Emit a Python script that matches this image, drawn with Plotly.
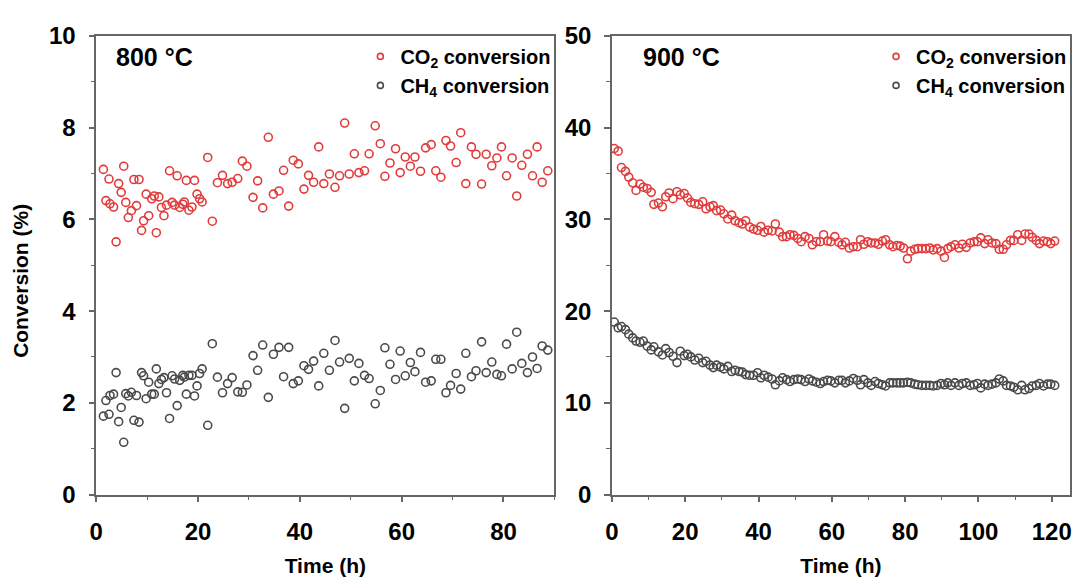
import plotly.graph_objects as go

# ---------------- data ----------------
time_800 = [1.4, 1.9, 2.5, 2.7, 3.4, 3.9, 4.4, 4.9, 5.4, 5.8,
            6.3, 6.9, 7.4, 7.9, 8.4, 8.9, 9.3, 9.8, 10.3, 10.9,
            11.4, 11.8, 12.3, 12.8, 13.3, 13.8, 14.4, 14.9, 15.4, 15.9,
            16.4, 17.0, 17.3, 17.7, 18.2, 18.8, 19.3, 19.8, 20.3, 20.8,
            21.9, 22.8, 23.8, 24.8, 25.8, 26.7, 27.8, 28.7, 29.6, 30.8,
            31.7, 32.7, 33.8, 34.8, 35.9, 36.8, 37.8, 38.7, 39.7, 40.8,
            41.7, 42.7, 43.7, 44.7, 45.8, 46.9, 47.8, 48.8, 49.7, 50.7,
            51.6, 52.7, 53.6, 54.8, 55.8, 56.7, 57.7, 58.8, 59.7, 60.7,
            61.7, 62.6, 63.7, 64.7, 65.8, 66.7, 67.7, 68.7, 69.6, 70.7,
            71.6, 72.6, 73.7, 74.6, 75.7, 76.6, 77.7, 78.7, 79.6, 80.6,
            81.7, 82.6, 83.6, 84.7, 85.7, 86.6, 87.6, 88.7]

co2_800 = [7.09, 6.41, 6.88, 6.34, 6.27, 5.51, 6.78, 6.59, 7.16, 6.37,
           6.04, 6.19, 6.87, 6.30, 6.87, 5.76, 5.97, 6.55, 6.08, 6.45,
           6.51, 5.71, 6.49, 6.26, 6.08, 6.31, 7.06, 6.37, 6.31, 6.95,
           6.26, 6.33, 6.38, 6.85, 6.20, 6.27, 6.85, 6.55, 6.45, 6.38,
           7.35, 5.96, 6.80, 6.96, 6.78, 6.81, 6.89, 7.27, 7.16, 6.48,
           6.84, 6.25, 7.79, 6.55, 6.62, 7.07, 6.29, 7.29, 7.21, 6.66,
           6.96, 6.81, 7.58, 6.78, 6.99, 6.70, 6.95, 8.10, 6.99, 7.43,
           7.02, 7.06, 7.43, 8.04, 7.65, 6.94, 7.23, 7.54, 7.02, 7.36,
           7.16, 7.36, 7.05, 7.56, 7.63, 7.06, 6.92, 7.72, 7.60, 7.24,
           7.89, 6.78, 7.58, 7.42, 6.77, 7.42, 7.17, 7.34, 7.58, 6.95,
           7.34, 6.51, 7.18, 7.42, 6.95, 7.58, 6.81, 7.06]

ch4_800 = [1.71, 2.05, 1.75, 2.16, 2.19, 2.66, 1.59, 1.90, 1.14, 2.20,
           2.15, 2.23, 1.62, 2.16, 1.58, 2.66, 2.59, 2.09, 2.45, 2.19,
           2.19, 2.74, 2.42, 2.51, 2.55, 2.22, 1.66, 2.59, 2.52, 1.94,
           2.49, 2.60, 2.56, 2.19, 2.60, 2.60, 2.15, 2.37, 2.64, 2.74,
           1.51, 3.29, 2.56, 2.22, 2.42, 2.55, 2.24, 2.23, 2.39, 3.03,
           2.71, 3.26, 2.12, 3.06, 3.21, 2.57, 3.21, 2.42, 2.48, 2.81,
           2.73, 2.91, 2.37, 3.08, 2.71, 3.36, 2.89, 1.88, 2.97, 2.48,
           2.86, 2.60, 2.53, 1.98, 2.27, 3.20, 2.84, 2.51, 3.13, 2.59,
           2.88, 2.68, 3.10, 2.45, 2.48, 2.95, 2.95, 2.22, 2.38, 2.64,
           2.30, 3.08, 2.57, 2.70, 3.33, 2.66, 2.89, 2.62, 2.59, 3.28,
           2.74, 3.54, 2.86, 2.66, 3.00, 2.75, 3.24, 3.15]

time_900 = [0.63, 1.71, 2.61, 3.69, 4.59, 5.68, 6.58, 7.66, 8.56, 9.64,
            10.72, 11.44, 12.70, 13.78, 14.68, 15.59, 16.67, 17.75, 18.65, 19.73,
            20.63, 21.53, 22.61, 23.69, 24.77, 25.68, 26.76, 27.66, 28.56, 29.64,
            30.54, 31.62, 32.70, 33.60, 34.68, 35.59, 36.49, 37.57, 38.65, 39.73,
            40.63, 41.53, 42.61, 43.69, 44.59, 45.68, 46.58, 47.66, 48.56, 49.64,
            50.72, 51.62, 52.70, 53.78, 54.68, 55.77, 56.85, 57.75, 58.83, 59.73,
            60.81, 61.89, 62.79, 63.69, 64.77, 65.86, 66.94, 67.84, 68.74, 69.82,
            70.72, 71.80, 72.70, 73.78, 74.68, 75.77, 76.67, 77.75, 78.65, 79.55,
            80.63, 81.53, 82.61, 83.51, 84.59, 85.68, 86.76, 87.66, 88.74, 89.82,
            90.72, 91.62, 92.52, 93.60, 94.68, 95.59, 96.67, 97.75, 98.83, 99.73,
            100.63, 101.71, 102.61, 103.69, 104.77, 105.68, 106.76, 107.66, 108.74, 109.64,
            110.72, 111.80, 112.70, 113.78, 114.68, 115.77, 116.67, 117.75, 118.83, 119.73,
            120.81]

co2_900 = [37.72, 37.44, 35.65, 35.23, 34.61, 33.99, 33.16, 33.85, 33.51, 33.37,
           32.95, 31.64, 31.78, 31.37, 32.47, 32.88, 32.26, 33.02, 32.68, 32.82,
           32.33, 31.85, 31.71, 31.64, 31.92, 31.16, 31.37, 31.50, 30.95, 31.02,
           30.61, 30.05, 30.47, 29.85, 29.64, 29.50, 29.85, 29.16, 28.95, 28.81,
           29.23, 28.61, 28.81, 28.74, 29.50, 28.61, 28.12, 28.12, 28.33, 28.26,
           27.92, 27.57, 28.12, 27.92, 27.23, 27.57, 27.57, 28.33, 27.64, 27.57,
           28.12, 27.50, 27.23, 27.50, 26.88, 27.02, 27.02, 27.78, 27.29, 27.57,
           27.43, 27.43, 27.29, 27.64, 27.78, 27.23, 27.02, 27.16, 27.09, 26.88,
           25.71, 26.54, 26.74, 26.81, 26.81, 26.81, 26.88, 26.67, 26.81, 26.54,
           25.85, 26.81, 27.02, 27.23, 26.88, 27.29, 26.95, 27.43, 27.57, 27.57,
           27.98, 27.36, 27.78, 27.43, 27.36, 26.74, 26.74, 27.23, 27.71, 27.71,
           28.33, 27.71, 28.40, 28.40, 28.05, 27.71, 27.36, 27.64, 27.57, 27.36,
           27.64]

ch4_900 = [18.81, 18.18, 18.32, 17.98, 17.49, 17.08, 16.74, 16.60, 16.74, 16.18,
           15.77, 16.11, 15.56, 15.22, 15.91, 15.49, 15.08, 14.39, 15.63, 15.15,
           15.29, 15.01, 14.67, 14.87, 14.39, 14.53, 14.11, 13.84, 14.11, 13.91,
           13.70, 13.98, 13.42, 13.56, 13.42, 13.35, 13.08, 13.01, 13.01, 13.28,
           12.73, 13.01, 12.80, 12.60, 11.97, 12.39, 12.73, 12.53, 12.32, 12.53,
           12.60, 12.53, 12.32, 12.60, 12.39, 12.25, 12.11, 12.32, 12.46, 12.39,
           12.18, 12.46, 12.46, 12.18, 12.39, 12.66, 12.46, 11.97, 12.53, 12.18,
           11.90, 12.32, 12.11, 11.97, 11.84, 12.18, 12.18, 12.18, 12.18, 12.18,
           12.25, 12.18, 12.04, 11.97, 11.90, 11.90, 11.90, 11.84, 11.90, 12.11,
           11.97, 12.18, 11.90, 12.18, 11.90, 12.11, 12.18, 11.90, 11.97, 12.11,
           11.63, 12.04, 11.90, 12.04, 12.18, 12.60, 12.39, 11.90, 11.84, 11.70,
           11.42, 11.90, 11.42, 11.56, 11.84, 11.90, 12.11, 11.84, 12.04, 12.04,
           11.90]

x_ticks_800 = [0, 20, 40, 60, 80]
x_ticks_900 = [0, 20, 40, 60, 80, 100, 120]
y_ticks_800 = [0, 2, 4, 6, 8, 10]
y_ticks_900 = [0, 10, 20, 30, 40, 50]
legend_labels = ["CO<sub>2</sub> conversion", "CH<sub>4</sub> conversion"]
panel_labels = ["800 °C", "900 °C"]

# ---------------- style ----------------
RED = "#e23b3b"
GRAY = "#4a4a4a"
AX = "#666666"
FONT = "Liberation Sans"
W, H = 1080, 581


def px_x(p):
    return p / W


def px_y(p):
    return 1 - p / H


fig = go.Figure()


def add_series(x, y, color, xa, ya):
    fig.add_trace(go.Scatter(
        x=x, y=y, mode="markers", xaxis=xa, yaxis=ya, showlegend=False,
        marker=dict(symbol="circle-open", size=8, color=color,
                    line=dict(width=1.6, color=color)),
        hoverinfo="x+y"))


add_series(time_800, co2_800, RED, "x", "y")
add_series(time_800, ch4_800, GRAY, "x", "y")
add_series(time_900, co2_900, RED, "x2", "y2")
add_series(time_900, ch4_900, GRAY, "x2", "y2")

# legend entries (small markers)
for lg, xa, ya in (("legend", "x", "y"), ("legend2", "x2", "y2")):
    for name, color in zip(legend_labels, (RED, GRAY)):
        fig.add_trace(go.Scatter(
            x=[None], y=[None], mode="markers", name=name, legend=lg,
            xaxis=xa, yaxis=ya,
            marker=dict(symbol="circle-open", size=6, color=color,
                        line=dict(width=1.6, color=color))))

tickfont = dict(family=FONT, size=24, color="black", weight="bold")
common_axis = dict(showline=True, linecolor=AX, linewidth=1.5, mirror=True,
                   ticks="outside", ticklen=6, tickwidth=1.5, tickcolor=AX,
                   showgrid=False, zeroline=False, tickfont=tickfont)
title_font = dict(family=FONT, size=21, weight="bold", color="black")

ydom = [px_y(504), px_y(23)]

fig.update_layout(
    width=W, height=H,
    margin=dict(l=0, r=0, t=0, b=0),
    paper_bgcolor="white", plot_bgcolor="white",
    font=dict(family=FONT, color="black"),
    xaxis=dict(domain=[px_x(90), px_x(552)], range=[0, 90], anchor="y",
               tickvals=x_ticks_800, ticklabelstandoff=9,
               minor=dict(dtick=10, ticks="outside", ticklen=4, tickcolor=AX, tickwidth=1.2),
               title=dict(text="Time (h)", standoff=14, font=title_font),
               **common_axis),
    yaxis=dict(domain=ydom, range=[0, 10], anchor="x", tickvals=y_ticks_800,
               ticklabelstandoff=8,
               minor=dict(dtick=1, ticks="outside", ticklen=4, tickcolor=AX, tickwidth=1.2),
               **common_axis),
    xaxis2=dict(domain=[px_x(610), px_x(1072)], range=[0, 125], anchor="y2",
                tickvals=x_ticks_900, ticklabelstandoff=9,
                minor=dict(dtick=10, ticks="outside", ticklen=4, tickcolor=AX, tickwidth=1.2),
                title=dict(text="Time (h)", standoff=14, font=title_font),
                **common_axis),
    yaxis2=dict(domain=ydom, range=[0, 50], anchor="x2", tickvals=y_ticks_900,
                ticklabelstandoff=8,
                minor=dict(dtick=5, ticks="outside", ticklen=4, tickcolor=AX, tickwidth=1.2),
                **common_axis),
    legend=dict(x=px_x(554), xanchor="right", y=px_y(24), yanchor="top",
                bgcolor="rgba(0,0,0,0)", itemwidth=30,
                font=dict(family=FONT, size=20, color="black", weight="bold")),
    legend2=dict(x=px_x(1074), xanchor="right", y=px_y(24), yanchor="top",
                 bgcolor="rgba(0,0,0,0)", itemwidth=30,
                 font=dict(family=FONT, size=20, color="black", weight="bold")),
    annotations=[
        dict(text=panel_labels[0], x=px_x(108), y=px_y(45), xref="paper", yref="paper",
             xanchor="left", yanchor="middle", showarrow=False,
             font=dict(family=FONT, size=25, weight="bold", color="black")),
        dict(text=panel_labels[1], x=px_x(639), y=px_y(45), xref="paper", yref="paper",
             xanchor="left", yanchor="middle", showarrow=False,
             font=dict(family=FONT, size=25, weight="bold", color="black")),
        dict(text="Conversion (%)", x=px_x(14), y=px_y(280), xref="paper", yref="paper",
             xanchor="center", yanchor="middle", showarrow=False, textangle=-90,
             font=title_font),
    ],
)

fig.write_html("out.html")
